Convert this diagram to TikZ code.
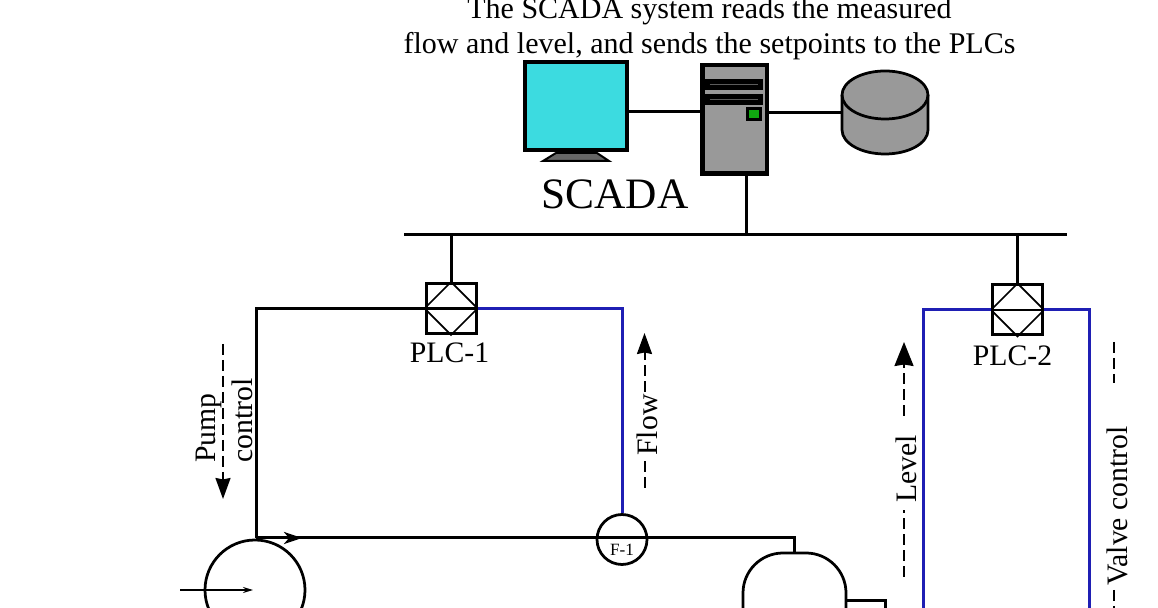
\documentclass[tikz,border=0pt]{standalone}
\usepackage{fontspec}
\setmainfont{Liberation Serif}
\usetikzlibrary{arrows.meta,positioning}
\definecolor{screencyan}{HTML}{3CDBE0}
\definecolor{casegray}{HTML}{999999}
\definecolor{standgray}{HTML}{666666}
\definecolor{ledgreen}{HTML}{10A810}
\definecolor{wireblue}{HTML}{1F1FB4}

\begin{document}
\begin{tikzpicture}[
  caption/.style={font=\fontsize{17.08}{19.8}\selectfont, align=center, inner sep=0pt},
  title/.style={font=\fontsize{24.7}{28}\selectfont, inner sep=0pt},
  tag/.style={font=\fontsize{16.9}{20}\selectfont, inner sep=0pt},
  sidelabel/.style={font=\fontsize{16.9}{21}\selectfont, rotate=90, inner sep=0pt, align=left},
  screen/.style={rectangle, draw, line width=0.08cm, fill=screencyan,
                 minimum width=2.04cm, minimum height=1.76cm},
  tower/.style={rectangle, draw, line width=0.09cm, fill=casegray,
                minimum width=1.29cm, minimum height=2.17cm},
  bay/.style={rectangle, fill=black, minimum width=1.16cm, minimum height=0.22cm, inner sep=0pt},
  led/.style={rectangle, draw, line width=0.06cm, fill=ledgreen,
              minimum width=0.26cm, minimum height=0.22cm, inner sep=0pt},
  store/.style={rectangle, minimum width=1.72cm, minimum height=1.66cm, inner sep=0pt},
  plcbox/.style={rectangle, draw, line width=0.06cm, minimum size=1cm, inner sep=0pt},
  instrument/.style={circle, draw, line width=0.055cm, minimum size=1cm, inner sep=0pt},
  pumpbody/.style={circle, draw, line width=0.055cm, minimum size=2cm, inner sep=0pt},
  vessel/.style={rectangle, draw, line width=0.055cm, rounded corners=0.8cm,
                 minimum width=2.06cm, minimum height=4cm},
  wire/.style={draw, line width=0.06cm},
  bluewire/.style={draw=wireblue, line width=0.06cm},
  signal/.style={draw, dashed, line width=0.04cm, dash pattern=on 0.22cm off 0.1cm},
  sighead/.style={-{Stealth[length=0.42cm,width=0.3cm,inset=0.03cm]}},
  levelhead/.style={-{Stealth[length=0.48cm,width=0.38cm,inset=0.03cm]}},
]
  \useasboundingbox (0,0) rectangle (23.16,12.16);
  \clip (0,0) rectangle (23.16,12.16);

  % Caption on top
  \node[caption] (note) at (14.19, 11.59) {The SCADA system reads the measured\\
        flow and level, and sends the setpoints to the PLCs};

  % SCADA station: monitor, tower, disk
  \node[screen] (monitor) at (11.51, 10.03) {};
  \draw[fill=standgray, line width=0.04cm] (11.12, 9.10) -- (11.94, 9.10) -- (12.18, 8.94) -- (10.86, 8.94) -- cycle;
  \node[tower] (server) at (14.69, 9.77) {};
  \node[bay] (bayone) at (14.68, 10.47) {};
  \node[bay] (baytwo) at (14.68, 10.17) {};
  \draw[casegray!60!black, line width=0.02cm] ([xshift=0.1cm]bayone.west) -- ([xshift=-0.1cm]bayone.east);
  \draw[casegray!60!black, line width=0.02cm] ([xshift=0.1cm]baytwo.west) -- ([xshift=-0.1cm]baytwo.east);
  \node[led] (light) at (15.08, 9.88) {};
  \node[store] (disk) at (17.70, 9.91) {};
  \draw[fill=casegray, line width=0.055cm] (16.84, 10.26) -- (16.84, 9.56) arc (180:360:0.86 and 0.48)
        -- (18.56, 10.26) arc (0:180:0.86 and 0.48) -- cycle;
  \draw[line width=0.055cm] (16.84, 10.26) arc (180:360:0.86 and 0.48);
  \node[title] (scada) at (12.30, 8.28) {SCADA};

  % Bus
  \coordinate (busleft) at (8.08, 7.46);
  \coordinate (busright) at (21.34, 7.46);
  \coordinate (bustap) at (14.92, 7.46);
  \draw[wire] (busleft) -- (busright);
  \draw[wire] (bustap) -- (bustap |- server.south);
  \draw[wire] ([yshift=-0.11cm]monitor.east) -- ([yshift=-0.11cm]monitor.east -| server.west);
  \draw[wire] (disk.west -| server.east) -- (disk.west);

  % PLCs
  \node[plcbox] (plcone) at (9.02, 5.99) {};
  \node[plcbox] (plctwo) at (20.35, 5.96) {};
  \node[tag, below=0.14cm of plcone, xshift=-0.03cm] (plconelabel) {PLC-1};
  \node[tag, below=0.18cm of plctwo, xshift=-0.1cm] (plctwolabel) {PLC-2};
  \foreach \plc in {plcone,plctwo} {
    \draw[line width=0.035cm] (\plc.north) -- (\plc.east) -- (\plc.south) -- (\plc.west) -- cycle;
    \draw[line width=0.05cm] (\plc.west) -- (\plc.east);
    \draw[wire] (\plc.north) -- (\plc.north |- busleft);
  }

  % Process: pump, flow meter, vessel
  \node[pumpbody] (pump) at (5.10, 0.36) {};
  \node[instrument] (fone) at (12.44, 1.37) {};
  \node[font=\fontsize{9.8}{12}\selectfont, inner sep=0pt] (fonelabel) at (12.44, 1.16) {F-1};
  \node[vessel] (tank) at (15.89, -0.90) {};
  \coordinate (pipestart) at (5.12, 1.40);
  \coordinate (pipearrow) at (6.04, 1.40);
  \coordinate (pumpin) at (3.60, 0.36);
  \coordinate (tankout) at (16.92, 0.14);
  \coordinate (tankdown) at (17.70, 0);
  \draw[wire] (pipestart) -- (tank.north |- pipestart) -- (tank.north);
  \draw[wire, -{Stealth[length=0.36cm,width=0.24cm,inset=0.1cm]}] (pipestart) -- (pipearrow);
  \draw[line width=0.03cm, shorten >=0.04cm, -{Stealth[length=0.2cm,width=0.12cm]}] (pumpin) -- (pump.center);
  \draw[wire] (tankout) -| (tankdown);

  % Control and measurement wires
  \coordinate (leveltap) at (18.46, 0);
  \coordinate (valvetap) at (21.78, 0);
  \draw[wire] (plcone.west) -| (pipestart);
  \draw[bluewire] (plcone.east) -| (fone.north);
  \draw[bluewire] (plctwo.west) -| (leveltap);
  \draw[bluewire] (plctwo.east) -| (valvetap);

  % Pump control signal
  \coordinate (pumpsigtop) at (4.46, 5.28);
  \coordinate (pumpsigtip) at (4.46, 2.18);
  \draw[signal, sighead] (pumpsigtop) -- (pumpsigtip);
  \node[sidelabel, anchor=west] (pumplabel) at (4.49, 2.90) {Pump\\control};

  % Flow signal
  \coordinate (flowtail) at (12.89, 2.40);
  \coordinate (flowtip) at (12.89, 5.50);
  \draw[signal, sighead] (flowtail) -- (flowtip);
  \node[sidelabel, fill=white] (flowlabel) at (12.94, 3.66) {Flow};

  % Level signal
  \node[sidelabel] (levellabel) at (18.12, 2.78) {Level};
  \coordinate (leveltail) at (18.08, 0.62);
  \coordinate (levelgapa) at (18.08, 1.96);
  \coordinate (levelgapb) at (18.08, 3.84);
  \coordinate (leveltip) at (18.08, 5.32);
  \draw[signal] (leveltail) -- (levelgapa);
  \draw[signal, levelhead] (levelgapb) -- (leveltip);

  % Valve control signal
  \node[sidelabel] (valvelabel) at (22.34, 2.04) {Valve control};
  \coordinate (valvetop) at (22.28, 5.32);
  \coordinate (valvegapa) at (22.28, 4.50);
  \coordinate (valvegapb) at (22.28, 0.36);
  \coordinate (valveend) at (22.28, 0);
  \draw[signal] (valvetop) -- (valvegapa);
  \draw[signal] (valvegapb) -- (valveend);
\end{tikzpicture}
\end{document}
